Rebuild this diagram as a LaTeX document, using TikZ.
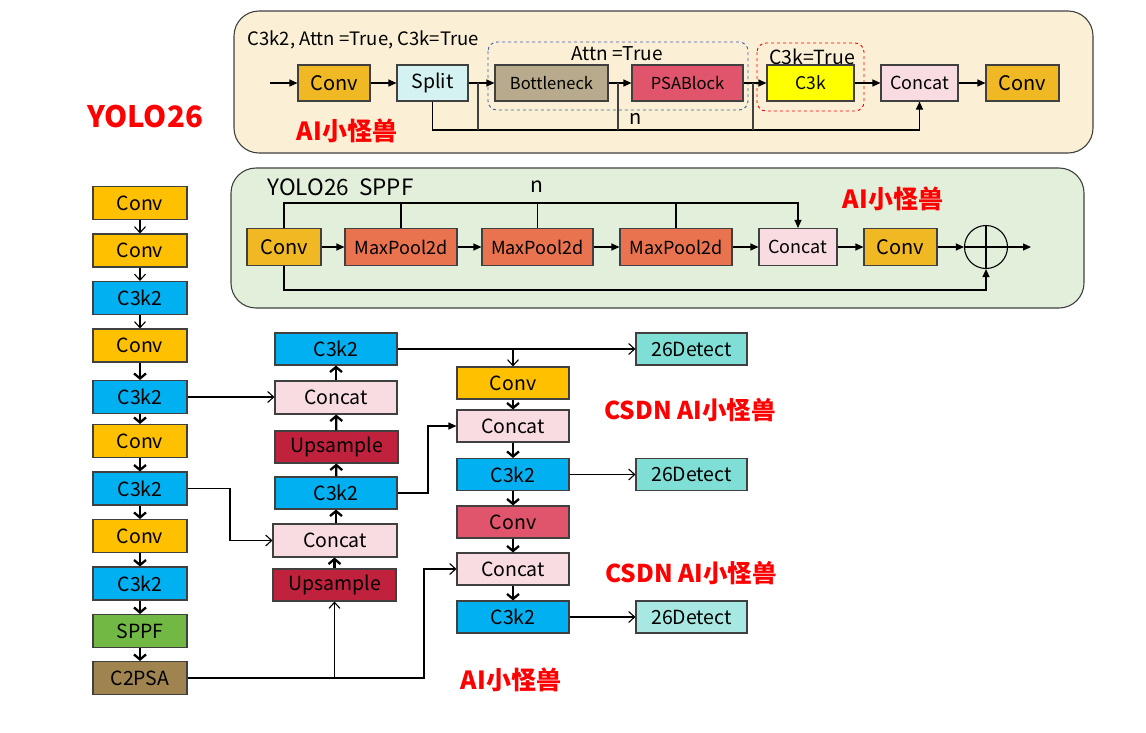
\documentclass[tikz,border=0pt]{standalone}
\usepackage{fontspec}
\setmainfont{Noto Sans CJK SC}
\usetikzlibrary{arrows.meta,calc}
\definecolor{bline}{HTML}{404040}
\definecolor{topbg}{HTML}{FBF0D5}
\definecolor{sppfbg}{HTML}{E2EFDA}
\definecolor{cgold}{HTML}{F0B822}
\definecolor{cconv}{HTML}{FFC000}
\definecolor{cblue}{HTML}{00B0F0}
\definecolor{cpink}{HTML}{F8DCE1}
\definecolor{cups}{HTML}{C0223E}
\definecolor{crose}{HTML}{E0546C}
\definecolor{cmax}{HTML}{E8734E}
\definecolor{cbott}{HTML}{B8AA8C}
\definecolor{csplit}{HTML}{D4F2F2}
\definecolor{cyel}{HTML}{FFFF00}
\definecolor{csppf}{HTML}{72B845}
\definecolor{cpsa}{HTML}{A08450}
\definecolor{cdet}{HTML}{7FDFD6}
\definecolor{cdetl}{HTML}{A8E8E2}
\definecolor{dblue}{HTML}{3A62B0}
\definecolor{wmred}{HTML}{FF0000}
\newcommand\fsz[1]{\fontsize{#1}{#1}\selectfont}
\begin{document}
\begin{tikzpicture}[x=1pt,y=-1pt,
  box/.style={draw=bline, line width=1.1pt, inner sep=0pt, font=\fsz{19.5}},
  wh/.style 2 args={minimum width=#1, minimum height=#2},
  ln/.style={draw=black, line width=1.1pt},
  arr/.style={ln, -{Triangle[length=8pt,width=7pt]}},
  oarr/.style={ln, -{Straight Barb[length=6pt,width=11pt]}},
  tarr/.style={draw=black, line width=2.3pt, -{Straight Barb[length=5pt,width=12pt]}},
  wm/.style={text=wmred, font=\bfseries\fsz{25}}
]
\useasboundingbox (0,0) rectangle (1146,732);

% ---------- top panel: C3k2 ----------
\draw[fill=topbg, draw=bline, line width=1.1pt, rounded corners=25pt] (234,11) rectangle (1093,153);
\node[anchor=west, font=\fsz{18.5}] (ttitle) at (244,40) {C3k2, Attn =True, C3k=True};
\draw[dashed, draw=dblue, line width=0.9pt, rounded corners=9pt] (488,42) rectangle (748,110);
\node[font=\fsz{19}] (attn) at (617,54) {Attn =True};
\draw[dashed, draw=wmred, line width=0.9pt, rounded corners=9pt] (757,43) rectangle (864,111);
\node[font=\fsz{19.5}] (c3kt) at (812,57) {C3k=True};

\node[box, fill=cgold, wh={72pt}{36pt}, font=\fsz{20}] (tconv1) at (334,83) {Conv};
\node[box, fill=csplit, wh={71pt}{36pt}] (split) at (432.5,83) {Split};
\node[box, fill=cbott, wh={113pt}{36pt}, font=\fsz{16.5}] (bottle) at (551.5,83) {Bottleneck};
\node[box, fill=crose, wh={111pt}{36pt}, font=\fsz{16.5}] (psa) at (687.5,83) {PSABlock};
\node[box, fill=cyel, wh={87pt}{36pt}, font=\fsz{17.5}] (c3k) at (810.5,83) {C3k};
\node[box, fill=cpink, wh={77pt}{36pt}, font=\fsz{18}] (tconcat) at (919.5,83) {Concat};
\node[box, fill=cgold, wh={73pt}{36pt}, font=\fsz{20}] (tconv2) at (1022.5,83) {Conv};

\coordinate (tin) at (270,83);
\coordinate (nlev) at (0,130);
\coordinate (br1) at (478,83);
\coordinate (br2) at (618,83);
\coordinate (br3) at (753,83);
\draw[arr] (tin) -- (tconv1);
\draw[arr] (tconv1) -- (split);
\draw[arr] (split) -- (bottle);
\draw[arr] (bottle) -- (psa);
\draw[arr] (psa) -- (c3k);
\draw[arr] (c3k) -- (tconcat);
\draw[arr] (tconcat) -- (tconv2);
\draw[arr] (split.south) -- (split.south |- nlev) -| (tconcat.south);
\draw[ln, draw=bline] (br1) -- (br1 |- nlev);
\draw[ln, draw=bline] (br2) -- (br2 |- nlev);
\draw[ln, draw=bline] (br3) -- (br3 |- nlev);
\node[font=\fsz{20}] (nlab1) at (636,119) {n};
\node[wm] (wm1) at (347,131) {AI小怪兽};
\node[wm, font=\bfseries\fsz{29.5}] (yolo) at (145,117) {YOLO26};

% ---------- SPPF panel ----------
\draw[fill=sppfbg, draw=bline, line width=1.1pt, rounded corners=25pt] (231,168) rectangle (1084,308);
\node[anchor=west, font=\fsz{22.5}] (stitle) at (264,187) {YOLO26\ \ SPPF};
\node[font=\fsz{21}] (nlab2) at (537,187) {n};
\node[box, fill=cgold, wh={74pt}{37pt}, font=\fsz{20}] (sconv1) at (284,247) {Conv};
\node[box, fill=cmax, wh={112pt}{37pt}, font=\fsz{18}] (mp1) at (401,247) {MaxPool2d};
\node[box, fill=cmax, wh={111pt}{37pt}, font=\fsz{18}] (mp2) at (537.5,247) {MaxPool2d};
\node[box, fill=cmax, wh={112pt}{37pt}, font=\fsz{18}] (mp3) at (676,247) {MaxPool2d};
\node[box, fill=cpink, wh={78pt}{37pt}, font=\fsz{18}] (sconcat) at (798,247) {Concat};
\node[box, fill=cgold, wh={73pt}{37pt}, font=\fsz{20}] (sconv2) at (900.5,247) {Conv};
\node[circle, draw=black, line width=1.1pt, minimum size=43pt, inner sep=0pt] (plus) at (986,247) {};
\draw[ln] (plus.north) -- (plus.south);
\draw[ln] (plus.west) -- (plus.east);
\coordinate (sout) at (1031,247);
\coordinate (toplev) at (0,203);
\coordinate (botlev) at (0,290);
\draw[arr] (sconv1) -- (mp1);
\draw[arr] (mp1) -- (mp2);
\draw[arr] (mp2) -- (mp3);
\draw[arr] (mp3) -- (sconcat);
\draw[arr] (sconcat) -- (sconv2);
\draw[arr] (sconv2) -- (plus);
\draw[arr] (plus.east) -- (sout);
\draw[arr] (sconv1.north) |- (sconcat.north |- toplev) -- (sconcat.north);
\draw[ln] (mp1.north) -- (mp1.north |- toplev);
\draw[ln] (mp2.north) -- (mp2.north |- toplev);
\draw[ln] (mp3.north) -- (mp3.north |- toplev);
\draw[arr] (sconv1.south) |- (plus.south |- botlev) -- (plus.south);
\node[wm] (wm2) at (893,199) {AI小怪兽};

% ---------- backbone ----------
\node[box, fill=cconv, wh={94pt}{33pt}] (b1) at (140,203) {Conv};
\node[box, fill=cconv, wh={94pt}{33pt}] (b2) at (140,250.5) {Conv};
\node[box, fill=cblue, wh={94pt}{33pt}] (b3) at (140,298) {C3k2};
\node[box, fill=cconv, wh={94pt}{33pt}] (b4) at (140,345.5) {Conv};
\node[box, fill=cblue, wh={94pt}{33pt}] (b5) at (140,397) {C3k2};
\node[box, fill=cconv, wh={94pt}{33pt}] (b6) at (140,441) {Conv};
\node[box, fill=cblue, wh={94pt}{33pt}] (b7) at (140,488.5) {C3k2};
\node[box, fill=cconv, wh={94pt}{33pt}] (b8) at (140,536) {Conv};
\node[box, fill=cblue, wh={94pt}{33pt}] (b9) at (140,583.5) {C3k2};
\node[box, fill=csppf, wh={94pt}{33pt}] (b10) at (140,631) {SPPF};
\node[box, fill=cpsa, wh={94pt}{33pt}] (b11) at (140,678) {C2PSA};
\draw[oarr] (b1) -- (b2);
\draw[oarr] (b2) -- (b3);
\draw[oarr] (b3) -- (b4);
\draw[tarr] (b4) -- (b5);
\draw[tarr] (b5) -- (b6);
\draw[tarr] (b6) -- (b7);
\draw[tarr] (b7) -- (b8);
\draw[tarr] (b8) -- (b9);
\draw[tarr] (b9) -- (b10);
\draw[tarr] (b10) -- (b11);

% ---------- neck (up) ----------
\node[box, fill=cblue, wh={122pt}{32pt}] (m1) at (336,349) {C3k2};
\node[box, fill=cpink, wh={122pt}{33pt}] (m2) at (336,397.5) {Concat};
\node[box, fill=cups, wh={123pt}{32pt}] (m3) at (336.5,447) {Upsample};
\node[box, fill=cblue, wh={122pt}{32pt}] (m4) at (336,493) {C3k2};
\node[box, fill=cpink, wh={124pt}{33pt}] (m5) at (335,540.5) {Concat};
\node[box, fill=cups, wh={123pt}{32pt}] (m6) at (334.5,585) {Upsample};
\draw[tarr] (m6) -- (m6 |- m5.south);
\draw[tarr] (m5.north -| m4) -- (m4.south);
\draw[tarr] (m4) -- (m3);
\draw[tarr] (m3) -- (m2);
\draw[tarr] (m2) -- (m1);

% ---------- neck (down) ----------
\node[box, fill=cconv, wh={112pt}{32pt}] (r1) at (513,383) {Conv};
\node[box, fill=cpink, wh={112pt}{32pt}] (r2) at (513,426) {Concat};
\node[box, fill=cblue, wh={112pt}{32pt}] (r3) at (513,474.5) {C3k2};
\node[box, fill=crose, wh={112pt}{32pt}] (r4) at (513,522) {Conv};
\node[box, fill=cpink, wh={112pt}{32pt}] (r5) at (513,569) {Concat};
\node[box, fill=cblue, wh={112pt}{32pt}] (r6) at (513,617) {C3k2};
\draw[tarr] (r1) -- (r2);
\draw[tarr] (r2) -- (r3);
\draw[tarr] (r3) -- (r4);
\draw[tarr] (r4) -- (r5);
\draw[tarr] (r5) -- (r6);

\node[box, fill=cdet, wh={111pt}{32pt}] (d1) at (691.5,349) {26Detect};
\node[box, fill=cdet, wh={111pt}{32pt}] (d2) at (691.5,474.5) {26Detect};
\node[box, fill=cdetl, wh={111pt}{32pt}] (d3) at (691.5,617) {26Detect};

% ---------- cross connections ----------
\coordinate (k1) at (230,0);
\coordinate (k2) at (424,0);
\coordinate (k3) at (428,0);
\draw[oarr] (b5.east) -- (b5.east -| m2.west);
\draw[oarr] (b7.east) -- (b7.east -| k1) |- (m5.west);
\draw[oarr] (b11.east) -- (b11.east -| k2) |- (r5.west);
\draw[oarr] (b11.east -| m6.south) -- (m6.south);
\draw[arr] (m4.east) -- (m4.east -| k3) |- (r2.west);
\draw[oarr] (m1.east) -- (d1.west);
\draw[oarr] (m1.east -| r1.north) -- (r1.north);
\draw[oarr] (r3) -- (d2);
\draw[oarr] (r6) -- (d3);

% ---------- watermarks ----------
\node[wm, font=\bfseries\fsz{24.5}] (wm3) at (690,410) {CSDN AI小怪兽};
\node[wm, font=\bfseries\fsz{24.5}] (wm4) at (691,573) {CSDN AI小怪兽};
\node[wm] (wm5) at (511,680) {AI小怪兽};
\end{tikzpicture}
\end{document}
